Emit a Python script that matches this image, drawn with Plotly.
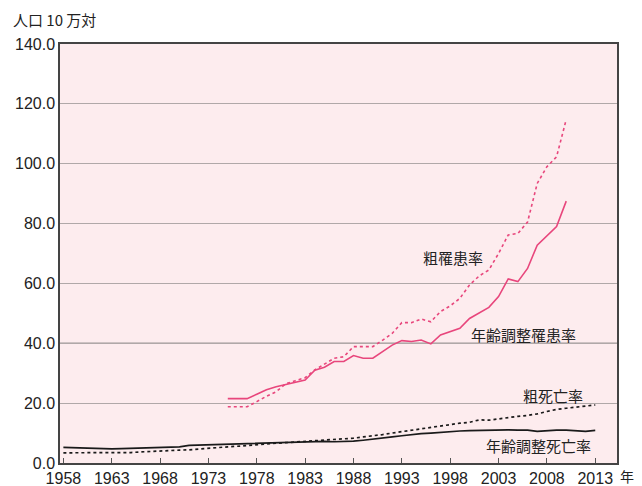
import plotly.graph_objects as go

years_death = list(range(1958, 2014))
crude_death = [3.4, 3.4, 3.4, 3.4, 3.4, 3.4, 3.5, 3.5, 3.7, 3.9, 4.1, 4.2, 4.3, 4.4, 4.7, 5.0,
               5.2, 5.4, 5.6, 5.9, 6.2, 6.4, 6.6, 6.8, 7.0, 7.2, 7.4, 7.6, 7.8, 8.0, 8.3, 8.7,
               9.0, 9.5, 10.0, 10.5, 11.0, 11.5, 12.0, 12.5, 13.0, 13.3, 13.6, 14.4, 14.3, 14.8,
               15.3, 15.6, 15.9, 16.4, 17.2, 17.9, 18.3, 18.6, 19.0, 19.4]
adj_death = [5.2, 5.1, 4.9, 4.7, 4.6, 4.7, 4.8, 4.9, 5.0, 5.1, 5.2, 5.3, 5.4, 5.9, 6.0, 6.1,
             6.2, 6.3, 6.5, 6.6, 6.7, 6.8, 6.9, 7.0, 7.1, 7.2, 7.2, 7.2, 7.1, 7.1, 7.3, 7.6,
             7.9, 8.3, 8.7, 9.1, 9.5, 9.8, 10.0, 10.3, 10.5, 10.7, 10.8, 10.9, 11.0, 11.0,
             11.1, 11.0, 11.0, 10.6, 10.9, 11.0, 11.0, 10.9, 10.6, 10.9]

years_inc = list(range(1975, 2011))
adj_inc = [21.5, 21.5, 21.5, 23.0, 24.5, 25.5, 26.3, 27.0, 27.7, 31.0, 32.0, 33.9, 33.9, 35.9,
           35.0, 35.0, 37.2, 39.4, 40.9, 40.6, 41.1, 39.8, 42.8, 43.8, 45.0, 48.3, 50.2, 52.0,
           55.6, 61.5, 60.6, 65.0, 72.8, 76.0, 79.0, 87.5]
crude_inc = [18.8, 18.8, 18.8, 20.5, 22.3, 23.8, 26.5, 27.5, 28.5, 31.1, 33.0, 35.0, 35.5, 38.9,
             38.9, 38.9, 41.0, 43.3, 46.9, 46.9, 48.1, 47.2, 50.6, 52.5, 55.0, 59.5, 62.5, 64.5,
             70.0, 76.2, 76.7, 80.5, 93.4, 99.0, 102.3, 114.8]

x_ticks = [1958, 1963, 1968, 1973, 1978, 1983, 1988, 1993, 1998, 2003, 2008, 2013]
y_ticks = [0, 20, 40, 60, 80, 100, 120, 140]

PINK = "#E8467C"
JP = "Noto Sans CJK JP"
NUM = "Liberation Sans"

fig = go.Figure()
fig.add_trace(go.Scatter(x=years_death, y=crude_death, mode="lines",
                         line=dict(color="#1a1a1a", width=1.7, dash="3px,3px")))
fig.add_trace(go.Scatter(x=years_death, y=adj_death, mode="lines",
                         line=dict(color="#1a1a1a", width=1.7)))
fig.add_trace(go.Scatter(x=years_inc, y=crude_inc, mode="lines",
                         line=dict(color=PINK, width=1.6, dash="3px,3px")))
fig.add_trace(go.Scatter(x=years_inc, y=adj_inc, mode="lines",
                         line=dict(color=PINK, width=1.6)))

fig.add_shape(type="line", xref="paper", x0=0, x1=1, yref="y", y0=40, y1=40,
              line=dict(color="#444444", width=1.3), layer="between")

annos = [
    ("粗罹患率", 1998.3, 68.8),
    ("年齢調整罹患率", 2005.6, 43.1),
    ("粗死亡率", 2008.6, 22.7),
    ("年齢調整死亡率", 2007.1, 6.0),
]
for t, x, y in annos:
    fig.add_annotation(x=x, y=y, text=t, showarrow=False,
                       font=dict(family=JP, size=15, color="#222222"))

fig.add_annotation(xref="paper", yref="paper", x=-0.088, y=1.058, xanchor="left", yanchor="middle",
                   text="人口 10 万対", showarrow=False,
                   font=dict(family=JP, size=15, color="#222222"))
fig.add_annotation(xref="paper", yref="paper", x=1.018, y=-0.031, xanchor="center", yanchor="middle",
                   text="年", showarrow=False,
                   font=dict(family=JP, size=14, color="#222222"))

fig.update_layout(
    width=634, height=478,
    margin=dict(l=52, r=25, t=36, b=23, autoexpand=False),
    paper_bgcolor="white",
    plot_bgcolor="#FDECEE",
    showlegend=False,
    font=dict(family=NUM, size=16, color="#222222"),
)
fig.update_xaxes(range=[1957.65, 2015.25], tickvals=x_ticks, ticktext=[str(v) for v in x_ticks],
                 ticks="inside", ticklen=5, tickcolor="#555555", showgrid=False,
                 showline=True, linecolor="#444444", linewidth=1.5, mirror=True,
                 tickfont=dict(family=NUM, size=16), zeroline=False, automargin=False)
fig.update_yaxes(range=[0, 140], tickvals=y_ticks, ticktext=[f"{v:.1f}" for v in y_ticks],
                 ticks="", showgrid=True, gridcolor="#B0A8A8", gridwidth=1.2,
                 showline=True, linecolor="#444444", linewidth=1.5, mirror=True,
                 tickfont=dict(family=NUM, size=16), zeroline=False, automargin=False)

fig.write_html("out.html")
